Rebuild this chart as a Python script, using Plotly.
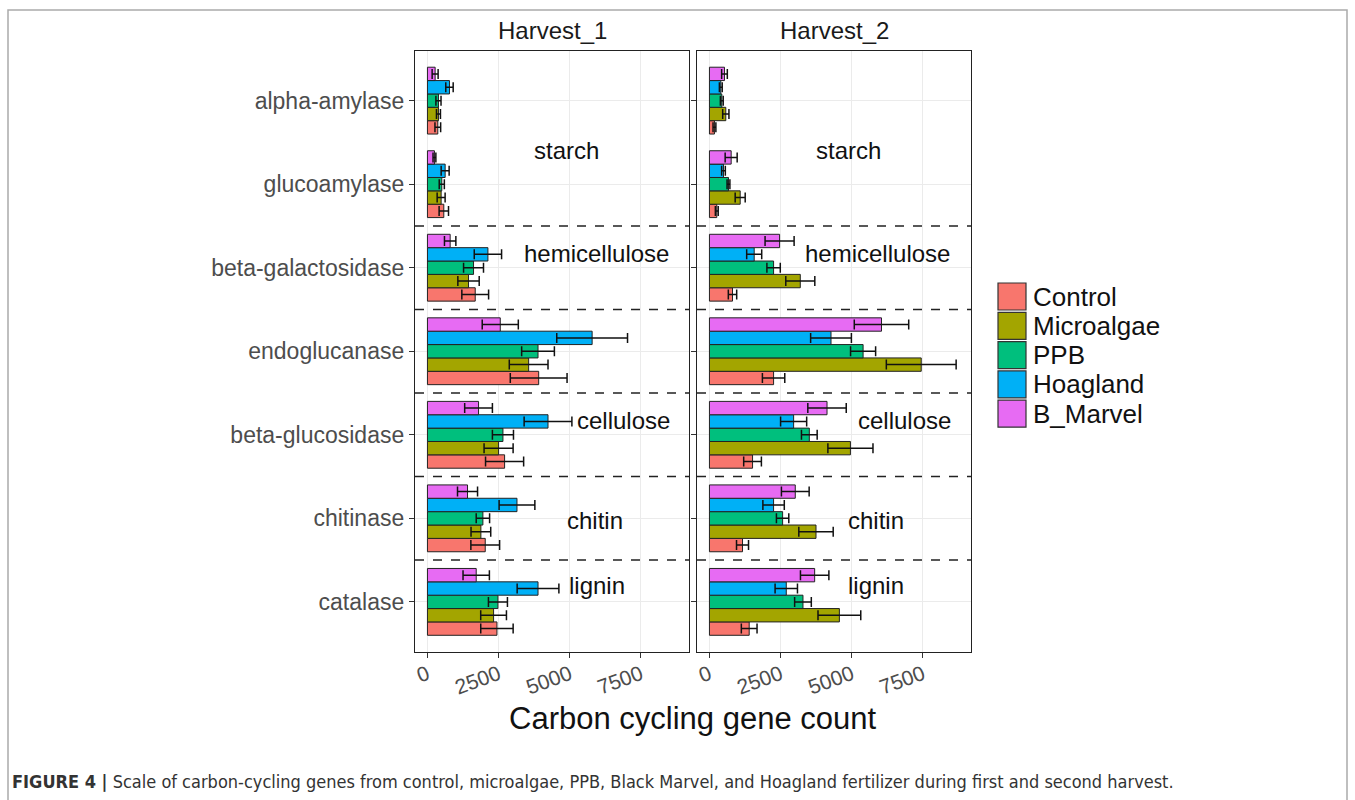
import plotly.graph_objects as go

categories = ["alpha-amylase", "glucoamylase", "beta-galactosidase", "endoglucanase",
              "beta-glucosidase", "chitinase", "catalase"]
treatments = ["Control", "Microalgae", "PPB", "Hoagland", "B_Marvel"]
colors = ["#F8766D", "#A3A500", "#00BF7D", "#00B0F6", "#E76BF3"]
panels = ["Harvest_1", "Harvest_2"]

# Harvest 1 means (categories order above)
h1_control = [364, 575, 1678, 3907, 2710, 2030, 2441]
h1_microalgae = [387, 481, 1443, 3555, 2499, 1877, 2323]
h1_ppb = [387, 504, 1619, 3884, 2652, 1948, 2476]
h1_hoagland = [774, 622, 2124, 5785, 4235, 3145, 3884]
h1_bmarvel = [270, 246, 798, 2558, 1795, 1408, 1713]
# Harvest 1 error
h1_control_err = [100, 165, 470, 997, 669, 505, 569]
h1_microalgae_err = [70, 140, 375, 680, 510, 346, 452]
h1_ppb_err = [90, 90, 350, 575, 370, 235, 334]
h1_hoagland_err = [130, 140, 480, 1243, 839, 628, 733]
h1_bmarvel_err = [105, 50, 200, 634, 487, 352, 463]

# Harvest 2 means
h2_control = [176, 258, 810, 2253, 1514, 1162, 1396]
h2_microalgae = [575, 1080, 3191, 7439, 4952, 3743, 4564]
h2_ppb = [434, 669, 2253, 5397, 3508, 2570, 3285]
h2_hoagland = [399, 493, 1572, 4270, 2957, 2253, 2699]
h2_bmarvel = [528, 763, 2464, 6043, 4130, 3015, 3696]
# Harvest 2 error
h2_control_err = [50, 50, 147, 393, 311, 211, 276]
h2_microalgae_err = [110, 176, 510, 1226, 792, 604, 751]
h2_ppb_err = [50, 50, 235, 440, 276, 217, 293]
h2_hoagland_err = [50, 65, 264, 716, 458, 376, 393]
h2_bmarvel_err = [100, 211, 510, 956, 675, 487, 499]

group_labels = ["starch", "hemicellulose", "cellulose", "chitin", "lignin"]
x_ticks = [0, 2500, 5000, 7500]
x_title = "Carbon cycling gene count"
caption_bold = "FIGURE 4 |"
caption_text = (" Scale of carbon-cycling genes from control, microalgae, PPB, Black Marvel, "
                "and Hoagland fertilizer during first and second harvest.")

h1_vals = [h1_control, h1_microalgae, h1_ppb, h1_hoagland, h1_bmarvel]
h1_errs = [h1_control_err, h1_microalgae_err, h1_ppb_err, h1_hoagland_err, h1_bmarvel_err]
h2_vals = [h2_control, h2_microalgae, h2_ppb, h2_hoagland, h2_bmarvel]
h2_errs = [h2_control_err, h2_microalgae_err, h2_ppb_err, h2_hoagland_err, h2_bmarvel_err]

W, H = 1355, 800
FONT = "Liberation Sans, Arial, sans-serif"


def px(x):
    return x / W


def py(y):
    return 1 - y / H


fig = go.Figure()
for pi, (vals, errs) in enumerate([(h1_vals, h1_errs), (h2_vals, h2_errs)]):
    xa = "x" if pi == 0 else "x2"
    ya = "y" if pi == 0 else "y2"
    for t, c, v, e in zip(treatments, colors, vals, errs):
        fig.add_trace(go.Bar(
            y=categories, x=v, orientation="h", name=t, xaxis=xa, yaxis=ya,
            marker=dict(color=c, line=dict(color="#222222", width=1)),
            error_x=dict(type="data", array=e, color="#111111", thickness=1.5, width=5),
            showlegend=False,
        ))

xr = [-437, 9187]
cat_order = categories[::-1]
axis_common = dict(showline=True, mirror=True, linecolor="#222222", linewidth=1.3,
                   showgrid=True, gridcolor="#EBEBEB", gridwidth=1, zeroline=False,
                   ticks="outside", ticklen=5, tickcolor="#333333", tickwidth=1)

x1_dom = [px(415), px(689)]
x2_dom = [px(697), px(971)]
y_dom = [py(652), py(50.5)]

xtickfont = dict(size=21, color="#4D4D4D", family=FONT)

fig.update_layout(
    width=W, height=H, margin=dict(l=0, r=0, t=0, b=0),
    paper_bgcolor="white", plot_bgcolor="white",
    barmode="group", bargap=0.2, bargroupgap=0,
    font=dict(family=FONT, color="#4D4D4D"),
    xaxis=dict(domain=x1_dom, range=xr, anchor="y", tickvals=x_ticks,
               tickangle=-20, tickfont=xtickfont, ticklabelstandoff=-4, **axis_common),
    xaxis2=dict(domain=x2_dom, range=xr, anchor="y2", tickvals=x_ticks,
                tickangle=-20, tickfont=xtickfont, ticklabelstandoff=-4, **axis_common),
    yaxis=dict(domain=y_dom, anchor="x", type="category", categoryorder="array",
               categoryarray=cat_order, range=[-0.6, 6.6],
               tickfont=dict(size=23, color="#4D4D4D", family=FONT), **axis_common),
    yaxis2=dict(domain=y_dom, anchor="x2", type="category", categoryorder="array",
                categoryarray=cat_order, range=[-0.6, 6.6], showticklabels=False,
                **axis_common),
)

# dashed separators between substrate groups
for xr_ref in ["x", "x2"]:
    yref = "y" if xr_ref == "x" else "y2"
    for yv in [0.5, 1.5, 2.5, 3.5, 4.5]:
        fig.add_shape(type="line", xref=xr_ref + " domain", yref=yref,
                      x0=0, x1=1, y0=yv, y1=yv,
                      line=dict(color="#222222", width=1.5, dash="dash"))

# group labels
label_pos = [(4900, 5.4), (5950, 4.17), (6900, 2.17), (5900, 0.98), (5950, 0.2)]
label_pos2 = [(4900, 5.4), (5900, 4.17), (6850, 2.17), (5850, 0.98), (5850, 0.2)]
for lbl, (lx, ly), (lx2, ly2) in zip(group_labels, label_pos, label_pos2):
    fig.add_annotation(x=lx, y=ly, xref="x", yref="y", text=lbl, showarrow=False,
                       xanchor="center", yanchor="middle",
                       font=dict(size=24, color="#111111", family=FONT))
    fig.add_annotation(x=lx2, y=ly2, xref="x2", yref="y2", text=lbl, showarrow=False,
                       xanchor="center", yanchor="middle",
                       font=dict(size=24, color="#111111", family=FONT))

# strip titles
for name, dom in zip(panels, [x1_dom, x2_dom]):
    fig.add_annotation(x=(dom[0] + dom[1]) / 2, y=py(31), xref="paper", yref="paper",
                       text=name, showarrow=False, xanchor="center", yanchor="middle",
                       font=dict(size=24, color="#1A1A1A", family=FONT))

# x-axis title
fig.add_annotation(x=px(693), y=py(718), xref="paper", yref="paper", text=x_title,
                   showarrow=False, xanchor="center", yanchor="middle",
                   font=dict(size=31, color="#111111", family=FONT))

# manual legend
for i, (t, c) in enumerate(zip(treatments, colors)):
    top = 283 + i * 29.3
    fig.add_shape(type="rect", xref="paper", yref="paper",
                  x0=px(998), x1=px(1026), y0=py(top + 27), y1=py(top),
                  fillcolor=c, line=dict(color="#333333", width=1.2))
    fig.add_annotation(x=px(1031), y=py(top + 13.5), xref="paper", yref="paper",
                       text=t, showarrow=False, xanchor="left", yanchor="middle",
                       font=dict(size=26, color="#111111", family=FONT))

# outer frame
fig.add_shape(type="rect", xref="paper", yref="paper",
              x0=px(8), x1=px(1347), y0=-0.02, y1=py(10),
              line=dict(color="#AAAAAA", width=1.5), fillcolor="rgba(0,0,0,0)")

# caption
fig.add_annotation(x=px(10), y=py(781), xref="paper", yref="paper",
                   text="<b>" + caption_bold + "</b>" + caption_text,
                   showarrow=False, xanchor="left", yanchor="middle",
                   font=dict(size=18, color="#333333",
                             family="Liberation Sans Narrow, DejaVu Sans Condensed, Arial Narrow, sans-serif"))

fig.write_html("out.html", config={"displayModeBar": False},
               post_script="document.body.style.margin='0';")
